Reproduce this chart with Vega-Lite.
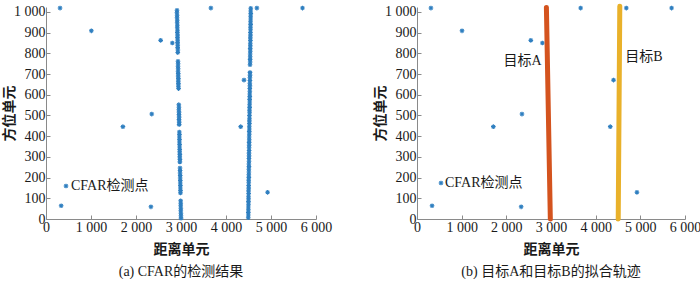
{
  "$schema": "https://vega.github.io/schema/vega-lite/v6.json",
  "padding": {"left": 2, "top": 3, "right": 0, "bottom": 0},
  "background": "white",
  "spacing": 41,
  "config": {
    "view": {"stroke": null},
    "axis": {
      "grid": false,
      "domainColor": "#8a8a8a",
      "tickColor": "#8a8a8a",
      "tickSize": -4,
      "labelPadding": 5,
      "labelFlush": false,
      "labelOverlap": false,
      "labelFont": "Liberation Serif",
      "labelFontSize": 14,
      "labelColor": "#1a1a1a",
      "titleFont": "Liberation Serif, Noto Sans CJK SC",
      "titleFontSize": 14,
      "titleFontWeight": "bold",
      "titleColor": "#1a1a1a"
    },
    "legend": {
      "labelFont": "Liberation Serif, Noto Sans CJK SC",
      "labelFontSize": 14,
      "labelColor": "#1a1a1a",
      "padding": 0
    },
    "title": {
      "font": "Liberation Serif, Noto Sans CJK SC",
      "fontSize": 14,
      "fontWeight": "normal",
      "color": "#1a1a1a"
    }
  },
  "datasets": {
    "points": [
      {"x": 2911, "y": 1008, "set": "track"}, {"x": 2909, "y": 996, "set": "track"}, {"x": 2914, "y": 984, "set": "track"}, {"x": 2912, "y": 972, "set": "track"}, {"x": 2917, "y": 960, "set": "track"}, {"x": 2915, "y": 948, "set": "track"}, {"x": 2919, "y": 936, "set": "track"}, {"x": 2917, "y": 924, "set": "track"}, {"x": 2922, "y": 912, "set": "track"}, {"x": 2919, "y": 900, "set": "track"}, {"x": 2924, "y": 888, "set": "track"}, {"x": 2921, "y": 876, "set": "track"}, {"x": 2926, "y": 864, "set": "track"}, {"x": 2923, "y": 852, "set": "track"}, {"x": 2927, "y": 840, "set": "track"}, {"x": 2925, "y": 828, "set": "track"}, {"x": 2930, "y": 816, "set": "track"}, {"x": 2928, "y": 804, "set": "track"},
      {"x": 2933, "y": 762, "set": "track"}, {"x": 2936, "y": 750, "set": "track"}, {"x": 2934, "y": 738, "set": "track"}, {"x": 2937, "y": 726, "set": "track"}, {"x": 2935, "y": 714, "set": "track"}, {"x": 2939, "y": 702, "set": "track"}, {"x": 2938, "y": 690, "set": "track"}, {"x": 2942, "y": 678, "set": "track"}, {"x": 2940, "y": 666, "set": "track"}, {"x": 2943, "y": 654, "set": "track"}, {"x": 2942, "y": 642, "set": "track"}, {"x": 2946, "y": 630, "set": "track"},
      {"x": 2951, "y": 552, "set": "track"}, {"x": 2954, "y": 540, "set": "track"}, {"x": 2952, "y": 528, "set": "track"}, {"x": 2956, "y": 516, "set": "track"}, {"x": 2955, "y": 504, "set": "track"}, {"x": 2958, "y": 492, "set": "track"}, {"x": 2956, "y": 480, "set": "track"}, {"x": 2960, "y": 468, "set": "track"}, {"x": 2959, "y": 456, "set": "track"},
      {"x": 2963, "y": 420, "set": "track"}, {"x": 2966, "y": 408, "set": "track"}, {"x": 2964, "y": 396, "set": "track"}, {"x": 2967, "y": 384, "set": "track"}, {"x": 2965, "y": 372, "set": "track"}, {"x": 2969, "y": 360, "set": "track"}, {"x": 2968, "y": 348, "set": "track"}, {"x": 2971, "y": 336, "set": "track"}, {"x": 2970, "y": 324, "set": "track"}, {"x": 2974, "y": 312, "set": "track"}, {"x": 2972, "y": 300, "set": "track"}, {"x": 2976, "y": 288, "set": "track"}, {"x": 2975, "y": 276, "set": "track"},
      {"x": 2978, "y": 246, "set": "track"}, {"x": 2980, "y": 234, "set": "track"}, {"x": 2979, "y": 222, "set": "track"}, {"x": 2983, "y": 210, "set": "track"}, {"x": 2982, "y": 198, "set": "track"}, {"x": 2985, "y": 186, "set": "track"}, {"x": 2984, "y": 174, "set": "track"}, {"x": 2987, "y": 162, "set": "track"}, {"x": 2986, "y": 150, "set": "track"}, {"x": 2989, "y": 138, "set": "track"}, {"x": 2988, "y": 126, "set": "track"},
      {"x": 2992, "y": 88, "set": "track"}, {"x": 2994, "y": 76, "set": "track"}, {"x": 2993, "y": 64, "set": "track"}, {"x": 2996, "y": 52, "set": "track"}, {"x": 2995, "y": 40, "set": "track"}, {"x": 2998, "y": 28, "set": "track"}, {"x": 2999, "y": 16, "set": "track"}, {"x": 3001, "y": 4, "set": "track"},
      {"x": 4550, "y": 1018, "set": "track"}, {"x": 4548, "y": 1005, "set": "track"}, {"x": 4550, "y": 992, "set": "track"}, {"x": 4547, "y": 979, "set": "track"}, {"x": 4548, "y": 966, "set": "track"}, {"x": 4545, "y": 953, "set": "track"}, {"x": 4547, "y": 940, "set": "track"}, {"x": 4544, "y": 927, "set": "track"}, {"x": 4545, "y": 914, "set": "track"}, {"x": 4543, "y": 901, "set": "track"}, {"x": 4544, "y": 888, "set": "track"}, {"x": 4541, "y": 875, "set": "track"}, {"x": 4543, "y": 862, "set": "track"}, {"x": 4540, "y": 849, "set": "track"}, {"x": 4541, "y": 836, "set": "track"}, {"x": 4538, "y": 823, "set": "track"}, {"x": 4540, "y": 810, "set": "track"}, {"x": 4537, "y": 797, "set": "track"}, {"x": 4538, "y": 784, "set": "track"}, {"x": 4536, "y": 771, "set": "track"}, {"x": 4537, "y": 758, "set": "track"}, {"x": 4534, "y": 745, "set": "track"},
      {"x": 4533, "y": 708, "set": "track"}, {"x": 4534, "y": 695, "set": "track"}, {"x": 4531, "y": 682, "set": "track"}, {"x": 4532, "y": 669, "set": "track"}, {"x": 4529, "y": 656, "set": "track"}, {"x": 4531, "y": 643, "set": "track"}, {"x": 4528, "y": 630, "set": "track"}, {"x": 4529, "y": 617, "set": "track"}, {"x": 4527, "y": 604, "set": "track"}, {"x": 4528, "y": 591, "set": "track"}, {"x": 4525, "y": 578, "set": "track"}, {"x": 4527, "y": 565, "set": "track"}, {"x": 4524, "y": 552, "set": "track"}, {"x": 4525, "y": 539, "set": "track"}, {"x": 4522, "y": 526, "set": "track"}, {"x": 4524, "y": 513, "set": "track"}, {"x": 4521, "y": 500, "set": "track"}, {"x": 4522, "y": 487, "set": "track"}, {"x": 4520, "y": 474, "set": "track"}, {"x": 4521, "y": 461, "set": "track"}, {"x": 4518, "y": 448, "set": "track"}, {"x": 4519, "y": 435, "set": "track"}, {"x": 4517, "y": 422, "set": "track"}, {"x": 4518, "y": 409, "set": "track"}, {"x": 4515, "y": 396, "set": "track"}, {"x": 4517, "y": 383, "set": "track"}, {"x": 4514, "y": 370, "set": "track"}, {"x": 4515, "y": 357, "set": "track"}, {"x": 4513, "y": 344, "set": "track"}, {"x": 4514, "y": 331, "set": "track"}, {"x": 4511, "y": 318, "set": "track"}, {"x": 4512, "y": 305, "set": "track"}, {"x": 4510, "y": 292, "set": "track"}, {"x": 4511, "y": 279, "set": "track"}, {"x": 4508, "y": 266, "set": "track"}, {"x": 4510, "y": 253, "set": "track"}, {"x": 4507, "y": 240, "set": "track"}, {"x": 4508, "y": 227, "set": "track"}, {"x": 4506, "y": 214, "set": "track"}, {"x": 4507, "y": 201, "set": "track"}, {"x": 4504, "y": 188, "set": "track"}, {"x": 4505, "y": 175, "set": "track"}, {"x": 4503, "y": 162, "set": "track"}, {"x": 4504, "y": 149, "set": "track"}, {"x": 4501, "y": 136, "set": "track"}, {"x": 4503, "y": 123, "set": "track"}, {"x": 4500, "y": 110, "set": "track"}, {"x": 4501, "y": 97, "set": "track"}, {"x": 4499, "y": 84, "set": "track"}, {"x": 4500, "y": 71, "set": "track"}, {"x": 4497, "y": 58, "set": "track"}, {"x": 4498, "y": 45, "set": "track"}, {"x": 4496, "y": 32, "set": "track"}, {"x": 4497, "y": 19, "set": "track"}, {"x": 4495, "y": 6, "set": "track"},
      {"x": 312, "y": 1019, "set": "clutter"}, {"x": 1008, "y": 909, "set": "clutter"}, {"x": 2548, "y": 863, "set": "clutter"}, {"x": 2807, "y": 850, "set": "clutter"}, {"x": 3664, "y": 1019, "set": "clutter"}, {"x": 4686, "y": 1019, "set": "clutter"}, {"x": 5700, "y": 1019, "set": "clutter"}, {"x": 4400, "y": 671, "set": "clutter"}, {"x": 2350, "y": 507, "set": "clutter"}, {"x": 1709, "y": 446, "set": "clutter"}, {"x": 4327, "y": 446, "set": "clutter"}, {"x": 337, "y": 64, "set": "clutter"}, {"x": 2332, "y": 59, "set": "clutter"}, {"x": 4924, "y": 129, "set": "clutter"}
    ],
    "tracks": [
      {"target": "A", "x": 2985, "y": 0},
      {"target": "A", "x": 2897, "y": 1022},
      {"target": "B", "x": 4505, "y": 0},
      {"target": "B", "x": 4540, "y": 1028}
    ],
    "labels": [
      {"text": "目标A", "x": 2362, "y": 763},
      {"text": "目标B", "x": 5082, "y": 784}
    ]
  },
  "hconcat": [
    {
      "width": 270,
      "height": 212,
      "title": {"text": "(a) CFAR的检测结果", "orient": "bottom", "offset": 9},
      "data": {"name": "points"},
      "mark": {"type": "point", "shape": "M-1,0H1M0,-1V1M-0.7,-0.7L0.7,0.7M-0.7,0.7L0.7,-0.7", "filled": false, "size": 22, "strokeWidth": 1.1, "opacity": 1},
      "encoding": {
        "x": {"field": "x", "type": "quantitative", "scale": {"domain": [0, 6000], "nice": false}, "axis": {"title": "距离单元", "values": [0, 1000, 2000, 3000, 4000, 5000, 6000], "labelExpr": "replace(format(datum.value, ','), ',', ' ')", "titlePadding": 8}},
        "y": {"field": "y", "type": "quantitative", "scale": {"domain": [0, 1024], "nice": false}, "axis": {"title": "方位单元", "values": [0, 100, 200, 300, 400, 500, 600, 700, 800, 900, 1000], "labelExpr": "replace(format(datum.value, ','), ',', ' ')", "titlePadding": -3}},
        "color": {"datum": "CFAR检测点", "type": "nominal", "scale": {"range": ["#2f7fc0"]}, "legend": {"title": null, "orient": "none", "legendX": 13, "legendY": 172, "symbolType": "M-1,0H1M0,-1V1M-0.7,-0.7L0.7,0.7M-0.7,0.7L0.7,-0.7", "symbolSize": 22, "symbolStrokeWidth": 1.1, "labelOffset": -2}}
      }
    },
    {
      "width": 268,
      "height": 212,
      "title": {"text": "(b) 目标A和目标B的拟合轨迹", "orient": "bottom", "offset": 9},
      "encoding": {
        "x": {"field": "x", "type": "quantitative", "scale": {"domain": [0, 6000], "nice": false}, "axis": {"title": "距离单元", "values": [0, 1000, 2000, 3000, 4000, 5000, 6000], "labelExpr": "replace(format(datum.value, ','), ',', ' ')", "titlePadding": 8}},
        "y": {"field": "y", "type": "quantitative", "scale": {"domain": [0, 1024], "nice": false}, "axis": {"title": "方位单元", "values": [0, 100, 200, 300, 400, 500, 600, 700, 800, 900, 1000], "labelExpr": "replace(format(datum.value, ','), ',', ' ')", "titlePadding": -3}}
      },
      "layer": [
        {
          "data": {"name": "points"},
          "transform": [{"filter": "datum.set === 'clutter'"}],
          "mark": {"type": "point", "shape": "M-1,0H1M0,-1V1M-0.7,-0.7L0.7,0.7M-0.7,0.7L0.7,-0.7", "filled": false, "size": 22, "strokeWidth": 1.1, "opacity": 1},
          "encoding": {
            "color": {"datum": "CFAR检测点", "type": "nominal", "scale": {"range": ["#2f7fc0"]}, "legend": {"title": null, "orient": "none", "legendX": 17, "legendY": 169, "symbolType": "M-1,0H1M0,-1V1M-0.7,-0.7L0.7,0.7M-0.7,0.7L0.7,-0.7", "symbolSize": 22, "symbolStrokeWidth": 1.1, "labelOffset": -3}}
          }
        },
        {
          "data": {"name": "tracks"},
          "mark": {"type": "line", "strokeWidth": 5, "strokeCap": "round", "strokeJoin": "round", "clip": false},
          "encoding": {
            "stroke": {"field": "target", "type": "nominal", "scale": {"domain": ["A", "B"], "range": ["#d4531e", "#e9b12a"]}, "legend": null}
          }
        },
        {
          "data": {"name": "labels"},
          "mark": {"type": "text", "font": "Liberation Serif, Noto Sans CJK SC", "fontSize": 14, "color": "#1a1a1a", "baseline": "middle", "align": "center"},
          "encoding": {
            "text": {"field": "text"}
          }
        }
      ]
    }
  ],
  "resolve": {"scale": {"color": "independent"}, "legend": {"color": "independent"}}
}
